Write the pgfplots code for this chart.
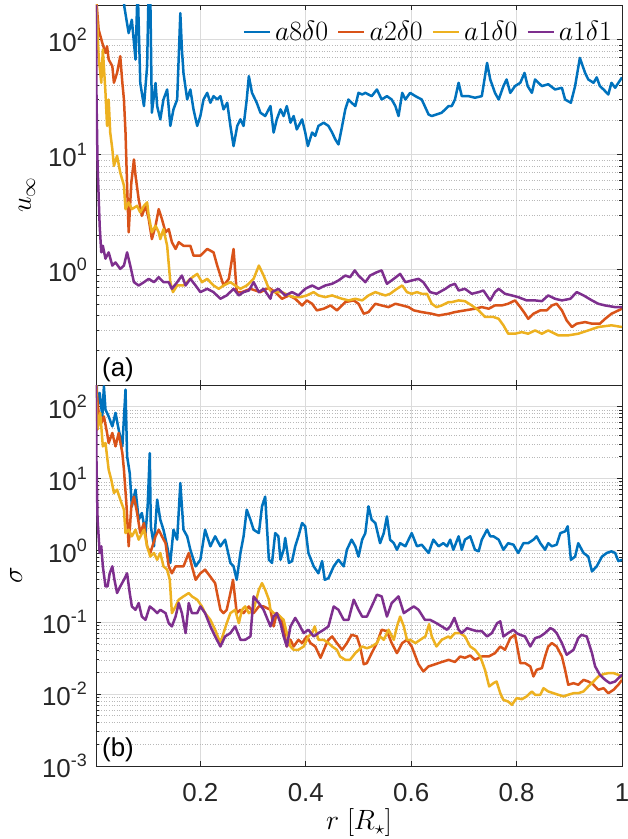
\RequirePackage{fix-cm}
\documentclass[border=0pt]{standalone}
\usepackage[no-math]{fontspec}
\setmainfont{Liberation Sans}
\usepackage{pgfplots}
\pgfplotsset{compat=1.18}
\definecolor{c1}{rgb}{0,0.447,0.741}
\definecolor{c2}{rgb}{0.850,0.325,0.098}
\definecolor{c3}{rgb}{0.929,0.694,0.125}
\definecolor{c4}{rgb}{0.494,0.184,0.556}
\definecolor{axc}{rgb}{0.15,0.15,0.15}
\newcommand\ee[1]{10\raisebox{11bp}{\fontsize{18}{18}\selectfont #1}}
\pgfplotsset{
  scale only axis, width=526bp, xmin=0.002, xmax=1,
  axis line style={axc, line width=0.8bp},
  tick style={axc, line width=0.8bp},
  major tick length=5bp, minor tick length=3bp,
  tick align=inside,
  xtick={0.2,0.4,0.6,0.8,1},
  xmajorgrids, ymajorgrids, yminorgrids,
  major grid style={draw=black!14, line width=0.8bp},
  minor grid style={draw=black!28, line width=0.6bp, dotted},
  tick label style={font=\fontsize{26}{28}\selectfont, text=axc},
  yticklabel style={inner sep=0pt, xshift=-9bp},
  xticklabel style={inner sep=0pt, yshift=-17bp},
  every axis plot/.append style={line width=2.5bp, line join=round, mark=none},
}
\begin{document}
\begin{tikzpicture}
\begin{axis}[name=top, ymode=log, height=380bp, ymin=0.1, ymax=200,
  ytick={1,10,100}, yticklabels={\ee{0},\ee{1},\ee{2}},
  minor ytick={0.2,0.3,0.4,0.5,0.6,0.7,0.8,0.9,2,3,4,5,6,7,8,9,20,30,40,50,60,70,80,90,200},
  xticklabels={},
  legend columns=4,
  legend image code/.code={\draw[#1] (0bp,0bp) -- (26bp,0bp);},
  legend style={draw=none, fill=none, at={(0.983,0.929)}, anchor=east,
    font=\fontsize{28}{30}\selectfont, inner sep=0pt,
    /tikz/every odd column/.append style={column sep=3bp},
    /tikz/every even column/.append style={column sep=8bp},
    nodes={inner sep=1bp}},
]
\addplot[c1] coordinates {(0.052,300)(0.056,190)(0.064,114)(0.070,149)(0.077,67)(0.081,300)(0.086,42)(0.093,26.5)(0.099,59)(0.102,300)(0.105,250)(0.108,23.2)(0.115,42)(0.118,26.5)(0.124,20.3)(0.130,30.2)(0.137,36.9)(0.143,17.8)(0.149,24.8)(0.156,30.2)(0.162,170)(0.165,82)(0.168,51.4)(0.175,30.2)(0.181,36.9)(0.187,24.8)(0.194,17.8)(0.200,21.7)(0.206,30.2)(0.213,34.5)(0.219,28.3)(0.225,32.3)(0.232,30.2)(0.238,32.3)(0.244,24.8)(0.251,28.3)(0.257,17.8)(0.263,11.9)(0.270,17.8)(0.276,20.3)(0.282,17.8)(0.288,30.2)(0.292,48.2)(0.298,34.5)(0.307,28.3)(0.314,23.2)(0.323,21.7)(0.333,26.5)(0.339,15.6)(0.345,20.3)(0.352,24.8)(0.358,21.7)(0.364,26.5)(0.371,19.0)(0.377,21.7)(0.383,16.6)(0.393,20.3)(0.399,15.6)(0.404,11.9)(0.412,15.6)(0.418,14.6)(0.424,17.8)(0.434,19.0)(0.443,17.8)(0.450,15.6)(0.456,13.6)(0.462,12.3)(0.469,17.8)(0.475,24.8)(0.481,30.2)(0.487,28.3)(0.494,26.5)(0.500,34.5)(0.507,33.4)(0.513,34.5)(0.525,32.3)(0.535,36.9)(0.544,30.2)(0.554,32.3)(0.563,30.2)(0.570,26.5)(0.576,21.7)(0.583,34.5)(0.589,30.2)(0.598,34.5)(0.608,32.3)(0.620,30.2)(0.633,22.4)(0.639,21.7)(0.648,22.4)(0.658,23.2)(0.671,26.5)(0.677,26.5)(0.683,30.2)(0.690,42.2)(0.696,32.3)(0.709,32.3)(0.721,31.3)(0.734,32.3)(0.744,62.8)(0.750,45.1)(0.759,34.5)(0.766,30.2)(0.775,39.5)(0.781,45.1)(0.788,34.5)(0.797,39.5)(0.807,42.2)(0.815,51.4)(0.821,39.5)(0.829,34.5)(0.835,45.1)(0.848,39.5)(0.860,41.0)(0.873,36.9)(0.886,38.2)(0.892,30.2)(0.903,28.3)(0.911,39.5)(0.920,69.4)(0.930,51.4)(0.936,45.1)(0.946,42.2)(0.952,47)(0.958,39.5)(0.965,36.9)(0.974,33.4)(0.980,42.2)(0.987,38.2)(1.000,47)};
\addlegendentry{$a8\delta0$}
\addplot[c2] coordinates {(0.002,250)(0.003,210)(0.007,122)(0.014,93.6)(0.020,76.7)(0.023,87.5)(0.026,67.2)(0.033,58.8)(0.036,42.2)(0.042,51.4)(0.048,71.8)(0.052,42.2)(0.055,30.2)(0.058,15.6)(0.061,5.4)(0.064,2.12)(0.069,5.7)(0.074,9.1)(0.077,6.6)(0.083,4.1)(0.089,2.95)(0.096,3.6)(0.102,2.77)(0.108,1.85)(0.115,2.42)(0.121,3.37)(0.127,2.77)(0.134,2.12)(0.140,2.26)(0.146,1.74)(0.153,1.52)(0.159,1.74)(0.168,1.62)(0.181,1.62)(0.187,1.33)(0.200,1.33)(0.213,1.52)(0.225,1.42)(0.232,1.09)(0.244,0.732)(0.254,0.836)(0.263,1.52)(0.269,0.641)(0.279,0.641)(0.295,0.685)(0.314,0.641)(0.330,0.70)(0.342,0.641)(0.355,0.561)(0.368,0.6)(0.380,0.561)(0.393,0.491)(0.402,0.543)(0.412,0.508)(0.421,0.445)(0.434,0.46)(0.447,0.491)(0.459,0.445)(0.475,0.525)(0.491,0.543)(0.500,0.508)(0.510,0.416)(0.519,0.43)(0.532,0.508)(0.544,0.491)(0.557,0.475)(0.570,0.508)(0.583,0.491)(0.595,0.475)(0.605,0.445)(0.620,0.43)(0.639,0.416)(0.652,0.402)(0.671,0.416)(0.683,0.43)(0.702,0.445)(0.721,0.46)(0.734,0.475)(0.747,0.46)(0.759,0.491)(0.772,0.491)(0.784,0.508)(0.797,0.543)(0.807,0.475)(0.816,0.416)(0.822,0.376)(0.832,0.416)(0.845,0.445)(0.857,0.445)(0.867,0.491)(0.876,0.508)(0.886,0.445)(0.895,0.364)(0.905,0.319)(0.914,0.341)(0.930,0.352)(0.943,0.341)(0.958,0.341)(0.968,0.376)(0.980,0.416)(1.000,0.46)};
\addlegendentry{$a2\delta0$}
\addplot[c3] coordinates {(0.002,220)(0.004,150)(0.007,71.8)(0.012,42.2)(0.015,81.9)(0.020,34.5)(0.023,17.8)(0.026,30.2)(0.029,15.6)(0.033,11.2)(0.036,8.0)(0.042,9.8)(0.048,7.0)(0.055,5.4)(0.058,3.37)(0.064,3.86)(0.070,3.37)(0.080,3.6)(0.086,3.16)(0.093,3.6)(0.099,3.86)(0.102,2.95)(0.108,2.12)(0.115,2.42)(0.121,2.12)(0.124,1.85)(0.130,2.26)(0.137,1.62)(0.143,0.782)(0.148,0.641)(0.156,0.732)(0.168,0.732)(0.181,0.836)(0.194,0.923)(0.203,0.782)(0.213,0.836)(0.225,0.732)(0.235,0.685)(0.244,0.732)(0.257,0.782)(0.266,0.732)(0.276,0.685)(0.288,0.732)(0.301,0.836)(0.311,1.09)(0.320,0.893)(0.330,0.685)(0.336,0.641)(0.355,0.641)(0.368,0.6)(0.377,0.58)(0.390,0.58)(0.402,0.6)(0.415,0.641)(0.424,0.6)(0.437,0.58)(0.450,0.6)(0.459,0.58)(0.469,0.561)(0.481,0.543)(0.494,0.561)(0.507,0.543)(0.519,0.6)(0.532,0.641)(0.541,0.62)(0.551,0.6)(0.560,0.62)(0.573,0.685)(0.583,0.732)(0.592,0.641)(0.601,0.62)(0.611,0.641)(0.620,0.62)(0.630,0.62)(0.639,0.508)(0.648,0.475)(0.658,0.491)(0.671,0.525)(0.677,0.525)(0.690,0.543)(0.702,0.535)(0.715,0.491)(0.728,0.445)(0.740,0.39)(0.756,0.39)(0.766,0.376)(0.775,0.33)(0.784,0.279)(0.797,0.279)(0.810,0.288)(0.822,0.279)(0.835,0.298)(0.848,0.279)(0.860,0.298)(0.879,0.27)(0.898,0.27)(0.917,0.279)(0.936,0.298)(0.955,0.319)(0.980,0.33)(1.000,0.319)};
\addlegendentry{$a1\delta0$}
\addplot[c4] coordinates {(0.002,200)(0.003,30.2)(0.005,8.0)(0.009,2.4)(0.012,1.42)(0.015,1.62)(0.020,1.25)(0.026,1.42)(0.033,1.09)(0.039,1.16)(0.048,1.02)(0.055,1.09)(0.061,1.42)(0.067,1.09)(0.074,0.782)(0.083,0.732)(0.093,0.782)(0.102,0.836)(0.112,0.782)(0.121,0.864)(0.130,0.782)(0.140,0.782)(0.146,0.685)(0.156,0.782)(0.165,0.893)(0.172,0.732)(0.181,0.836)(0.191,0.732)(0.200,0.641)(0.213,0.685)(0.225,0.641)(0.238,0.561)(0.250,0.6)(0.263,0.685)(0.273,0.6)(0.282,0.641)(0.292,0.662)(0.301,0.782)(0.311,0.641)(0.320,0.685)(0.333,0.561)(0.336,0.641)(0.348,0.685)(0.361,0.6)(0.374,0.641)(0.386,0.6)(0.399,0.685)(0.412,0.732)(0.424,0.685)(0.437,0.732)(0.450,0.757)(0.462,0.809)(0.475,0.893)(0.484,0.864)(0.493,0.99)(0.500,0.893)(0.513,0.782)(0.522,0.893)(0.535,0.955)(0.544,0.99)(0.554,0.757)(0.567,0.836)(0.579,0.923)(0.589,0.782)(0.601,0.809)(0.614,0.836)(0.623,0.782)(0.636,0.641)(0.648,0.62)(0.665,0.685)(0.674,0.732)(0.683,0.757)(0.690,0.662)(0.702,0.685)(0.715,0.62)(0.728,0.641)(0.737,0.662)(0.750,0.543)(0.759,0.641)(0.766,0.685)(0.778,0.62)(0.791,0.6)(0.803,0.58)(0.819,0.543)(0.835,0.543)(0.848,0.535)(0.860,0.6)(0.873,0.561)(0.886,0.543)(0.902,0.561)(0.914,0.641)(0.927,0.6)(0.943,0.543)(0.955,0.508)(0.968,0.491)(0.987,0.475)(1.000,0.475)};
\addlegendentry{$a1\delta1$}
\end{axis}
\begin{axis}[name=bot, ymode=log, at={(top.south west)}, anchor=north west,
  height=381bp, ymin=0.001, ymax=200,
  ytick={0.001,0.01,0.1,1,10,100},
  yticklabels={\ee{-3},\ee{-2},\ee{-1},\ee{0},\ee{1},\ee{2}},
  minor ytick={0.002,0.003,0.004,0.005,0.006,0.007,0.008,0.009,0.02,0.03,0.04,0.05,0.06,0.07,0.08,0.09,0.2,0.3,0.4,0.5,0.6,0.7,0.8,0.9,2,3,4,5,6,7,8,9,20,30,40,50,60,70,80,90,200},
  xticklabels={0.2,0.4,0.6,0.8,1},
]
\addplot[c1] coordinates {(0.002,300)(0.003,238)(0.005,101)(0.009,155)(0.014,73)(0.017,192)(0.020,91)(0.026,73)(0.033,53)(0.039,82)(0.045,48)(0.052,28)(0.058,172)(0.061,20.4)(0.066,11.9)(0.070,4.1)(0.077,7.0)(0.083,2.67)(0.089,3.31)(0.096,1.74)(0.100,4.1)(0.104,22.6)(0.106,2.16)(0.112,1.14)(0.118,5.1)(0.124,2.67)(0.130,1.94)(0.137,1.14)(0.143,0.67)(0.149,1.94)(0.156,1.41)(0.162,8.65)(0.168,1.94)(0.175,1.57)(0.181,1.02)(0.191,0.60)(0.200,0.74)(0.209,1.94)(0.219,1.14)(0.228,1.57)(0.238,1.14)(0.247,1.41)(0.257,0.67)(0.263,0.60)(0.269,0.39)(0.276,0.92)(0.282,1.57)(0.288,3.68)(0.295,2.67)(0.301,1.94)(0.311,1.74)(0.317,4.1)(0.323,5.6)(0.330,0.74)(0.336,0.67)(0.342,1.74)(0.348,1.57)(0.352,0.74)(0.358,1.02)(0.361,1.49)(0.368,0.67)(0.374,0.71)(0.380,1.14)(0.386,1.57)(0.393,2.40)(0.399,2.16)(0.405,0.92)(0.415,0.60)(0.424,0.48)(0.431,0.71)(0.436,0.39)(0.443,0.41)(0.453,0.60)(0.462,0.74)(0.472,0.60)(0.478,1.02)(0.487,1.41)(0.494,1.14)(0.500,0.82)(0.507,1.41)(0.513,1.74)(0.519,4.1)(0.525,2.67)(0.532,2.40)(0.541,1.26)(0.548,1.74)(0.554,2.97)(0.560,1.41)(0.567,1.26)(0.573,1.02)(0.579,1.26)(0.589,1.14)(0.601,1.74)(0.611,1.14)(0.620,1.2)(0.633,0.92)(0.642,1.41)(0.652,1.14)(0.661,1.26)(0.668,1.14)(0.674,1.41)(0.680,1.02)(0.690,1.57)(0.696,1.02)(0.702,1.41)(0.712,1.57)(0.721,1.02)(0.728,0.97)(0.734,1.41)(0.744,1.94)(0.750,1.57)(0.756,1.57)(0.766,1.41)(0.775,1.02)(0.784,1.26)(0.794,1.2)(0.803,0.92)(0.813,1.26)(0.822,1.26)(0.832,1.41)(0.838,1.57)(0.845,1.26)(0.854,1.02)(0.860,1.26)(0.867,1.14)(0.876,1.2)(0.883,1.74)(0.892,1.84)(0.897,2.16)(0.903,0.74)(0.911,0.82)(0.917,1.26)(0.927,0.92)(0.936,0.82)(0.943,0.51)(0.952,0.60)(0.962,0.82)(0.971,0.92)(0.980,0.97)(0.987,0.92)(0.993,0.71)(1.000,0.74)};
\addplot[c2] coordinates {(0.002,250)(0.003,172)(0.007,82)(0.012,59)(0.017,73)(0.023,43)(0.026,31.2)(0.033,43)(0.039,28)(0.045,43)(0.052,22.6)(0.055,13.3)(0.060,4.1)(0.064,1.14)(0.069,4.1)(0.074,5.6)(0.080,3.31)(0.086,1.74)(0.093,2.40)(0.099,1.14)(0.105,0.92)(0.115,1.57)(0.121,1.94)(0.127,1.57)(0.134,1.26)(0.140,0.60)(0.146,0.48)(0.153,0.60)(0.159,0.60)(0.168,0.60)(0.178,0.92)(0.184,0.60)(0.191,0.39)(0.200,0.48)(0.209,0.54)(0.219,0.43)(0.228,0.35)(0.238,0.149)(0.244,0.134)(0.250,0.149)(0.257,0.255)(0.262,0.39)(0.269,0.134)(0.276,0.149)(0.282,0.134)(0.292,0.166)(0.301,0.134)(0.311,0.166)(0.320,0.166)(0.333,0.149)(0.339,0.0875)(0.345,0.134)(0.355,0.108)(0.364,0.046)(0.371,0.057)(0.377,0.046)(0.386,0.057)(0.393,0.0513)(0.402,0.0635)(0.409,0.0513)(0.418,0.046)(0.428,0.032)(0.437,0.046)(0.443,0.057)(0.450,0.0635)(0.459,0.0513)(0.469,0.0414)(0.478,0.0513)(0.487,0.067)(0.497,0.0635)(0.503,0.046)(0.510,0.026)(0.516,0.027)(0.525,0.0372)(0.535,0.0513)(0.544,0.0787)(0.554,0.075)(0.563,0.0513)(0.573,0.0372)(0.583,0.0513)(0.592,0.057)(0.601,0.046)(0.614,0.026)(0.623,0.0207)(0.633,0.0243)(0.645,0.026)(0.658,0.028)(0.671,0.030)(0.683,0.028)(0.693,0.0334)(0.702,0.032)(0.712,0.0345)(0.721,0.030)(0.734,0.0334)(0.747,0.0334)(0.759,0.0372)(0.769,0.046)(0.778,0.0414)(0.788,0.060)(0.797,0.067)(0.807,0.027)(0.816,0.027)(0.826,0.0243)(0.832,0.0176)(0.838,0.0218)(0.848,0.023)(0.854,0.0334)(0.860,0.046)(0.867,0.0513)(0.876,0.046)(0.886,0.0334)(0.892,0.0218)(0.898,0.0135)(0.908,0.0142)(0.917,0.0135)(0.927,0.0158)(0.936,0.015)(0.946,0.0135)(0.955,0.0115)(0.965,0.0121)(0.974,0.0103)(0.984,0.0115)(0.993,0.0135)(1.000,0.0158)};
\addplot[c3] coordinates {(0.002,200)(0.003,112)(0.005,48)(0.010,82)(0.015,28)(0.020,31.2)(0.026,13.3)(0.031,9.6)(0.036,6.3)(0.042,7.0)(0.048,5.1)(0.055,3.68)(0.058,1.74)(0.064,1.94)(0.070,1.57)(0.077,1.94)(0.083,1.41)(0.093,1.94)(0.099,1.14)(0.105,0.82)(0.112,0.92)(0.118,0.74)(0.124,0.92)(0.130,0.60)(0.137,0.54)(0.142,0.39)(0.146,0.134)(0.153,0.166)(0.159,0.206)(0.168,0.229)(0.178,0.255)(0.184,0.229)(0.194,0.206)(0.203,0.166)(0.209,0.134)(0.219,0.108)(0.228,0.0787)(0.238,0.0513)(0.244,0.0707)(0.250,0.097)(0.257,0.134)(0.266,0.149)(0.273,0.097)(0.279,0.149)(0.285,0.166)(0.292,0.134)(0.301,0.149)(0.311,0.283)(0.317,0.35)(0.323,0.283)(0.330,0.206)(0.333,0.149)(0.339,0.134)(0.348,0.127)(0.358,0.108)(0.364,0.0707)(0.371,0.046)(0.377,0.0414)(0.386,0.0414)(0.396,0.046)(0.405,0.0635)(0.412,0.0707)(0.417,0.0875)(0.424,0.057)(0.434,0.057)(0.443,0.0513)(0.450,0.046)(0.459,0.0414)(0.465,0.0334)(0.475,0.030)(0.484,0.030)(0.494,0.0372)(0.507,0.046)(0.516,0.0435)(0.525,0.046)(0.535,0.0513)(0.541,0.0635)(0.548,0.057)(0.557,0.0787)(0.567,0.057)(0.573,0.0875)(0.579,0.12)(0.586,0.0875)(0.592,0.057)(0.598,0.057)(0.608,0.0513)(0.617,0.057)(0.627,0.0635)(0.634,0.094)(0.639,0.0635)(0.648,0.046)(0.658,0.057)(0.671,0.0635)(0.674,0.06)(0.683,0.0707)(0.693,0.0707)(0.702,0.0635)(0.712,0.046)(0.721,0.0414)(0.731,0.0334)(0.740,0.0218)(0.748,0.0128)(0.756,0.0142)(0.762,0.015)(0.769,0.0103)(0.775,0.0083)(0.784,0.0079)(0.791,0.0071)(0.800,0.0088)(0.810,0.0085)(0.819,0.0093)(0.829,0.0109)(0.835,0.0098)(0.845,0.0098)(0.851,0.0121)(0.860,0.0109)(0.870,0.0103)(0.879,0.0098)(0.889,0.0093)(0.898,0.0098)(0.908,0.0103)(0.917,0.0103)(0.927,0.0109)(0.936,0.0128)(0.946,0.015)(0.955,0.0176)(0.965,0.019)(0.974,0.0196)(0.984,0.0196)(0.993,0.0186)(1.000,0.0167)};
\addplot[c4] coordinates {(0.0015,200)(0.002,139)(0.003,15.5)(0.005,2.67)(0.009,0.92)(0.012,1.14)(0.015,0.60)(0.020,0.315)(0.024,0.315)(0.028,0.48)(0.033,0.60)(0.037,0.39)(0.042,0.255)(0.048,0.315)(0.055,0.39)(0.061,0.48)(0.066,0.255)(0.070,0.166)(0.077,0.149)(0.083,0.185)(0.089,0.12)(0.096,0.108)(0.104,0.166)(0.112,0.149)(0.118,0.134)(0.124,0.149)(0.134,0.134)(0.140,0.097)(0.146,0.0875)(0.153,0.12)(0.159,0.185)(0.165,0.134)(0.172,0.0707)(0.178,0.185)(0.184,0.134)(0.194,0.134)(0.200,0.166)(0.209,0.134)(0.219,0.0875)(0.228,0.0635)(0.238,0.046)(0.247,0.0635)(0.257,0.0707)(0.266,0.0875)(0.276,0.057)(0.285,0.057)(0.295,0.0635)(0.301,0.229)(0.311,0.185)(0.320,0.149)(0.333,0.0875)(0.339,0.12)(0.345,0.134)(0.352,0.097)(0.358,0.0635)(0.364,0.046)(0.371,0.0875)(0.380,0.115)(0.386,0.097)(0.396,0.0707)(0.405,0.0787)(0.415,0.0635)(0.424,0.0707)(0.434,0.0787)(0.443,0.0875)(0.453,0.166)(0.462,0.149)(0.472,0.108)(0.481,0.108)(0.491,0.206)(0.500,0.149)(0.507,0.12)(0.516,0.12)(0.525,0.166)(0.535,0.242)(0.544,0.229)(0.554,0.12)(0.563,0.185)(0.576,0.229)(0.586,0.134)(0.595,0.149)(0.605,0.166)(0.614,0.149)(0.626,0.108)(0.636,0.108)(0.648,0.097)(0.658,0.0875)(0.668,0.0787)(0.674,0.0875)(0.682,0.115)(0.690,0.0787)(0.696,0.0707)(0.706,0.083)(0.715,0.0787)(0.725,0.075)(0.734,0.075)(0.744,0.0635)(0.753,0.0707)(0.763,0.097)(0.769,0.103)(0.775,0.0635)(0.784,0.0707)(0.794,0.0787)(0.800,0.0707)(0.807,0.0667)(0.816,0.0635)(0.826,0.046)(0.835,0.06)(0.845,0.0635)(0.854,0.0707)(0.864,0.083)(0.870,0.0787)(0.876,0.0707)(0.886,0.0513)(0.895,0.0353)(0.908,0.0414)(0.917,0.060)(0.923,0.0667)(0.933,0.0635)(0.943,0.0372)(0.949,0.0243)(0.958,0.0186)(0.968,0.0158)(0.977,0.0142)(0.987,0.015)(1.000,0.0186)};
\end{axis}
\node[rotate=90, font=\fontsize{28}{30}\selectfont] at ([xshift=-69bp]top.west) {$u_\infty$};
\node[rotate=90, font=\fontsize{28}{30}\selectfont] at ([xshift=-80bp]bot.west) {$\sigma$};
\node[font=\fontsize{28}{30}\selectfont] at ([yshift=-57bp]bot.south) {$r~[R_\star]$};
\node[anchor=south west, inner sep=0pt, font=\fontsize{26}{28}\selectfont] at ([xshift=6bp,yshift=3bp]top.south west) {(a)};
\node[anchor=south west, inner sep=0pt, font=\fontsize{26}{28}\selectfont] at ([xshift=6bp,yshift=4bp]bot.south west) {(b)};
\pgfresetboundingbox
\path[use as bounding box] ([xshift=-96bp,yshift=5bp]top.north west) rectangle ([xshift=5bp,yshift=-73bp]bot.south east);
\end{tikzpicture}
\end{document}
